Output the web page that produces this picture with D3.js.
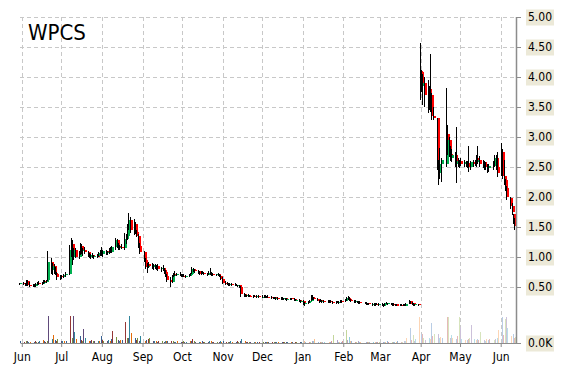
<!DOCTYPE html>
<html>
<head>
<meta charset="utf-8">
<script src="https://cdn.jsdelivr.net/npm/d3@7"></script>
<style>
  body { margin: 0; background: #fff; }
  svg { display: block; }
</style>
</head>
<body>
<div id="chart"></div>
<script>
// ---- data ----
const symbol = 'WPCS'
const firstDay = '2013-05-31'
const lastDay = '2014-06-12'
const holidays = ['2013-07-04', '2013-09-02', '2013-11-28', '2013-12-25', '2014-01-01',
  '2014-01-20', '2014-02-17', '2014-04-18', '2014-05-26']
const monthTicks = ['2013-06-01', '2013-07-01', '2013-08-01', '2013-09-01', '2013-10-01', '2013-11-01',
  '2013-12-01', '2014-01-01', '2014-02-01', '2014-03-01', '2014-04-01', '2014-05-01', '2014-06-01']
const priceTicks = [0.5, 1, 1.5, 2, 2.5, 3, 3.5, 4, 4.5, 5]
const volumeTicks = [0]
const shadeBreaks = ['2014-01-01', '2014-03-17']

// one line per month: May31 | Jun | Jul | Aug | Sep | Oct | Nov | Dec | Jan | Feb | Mar | Apr | May | Jun
const opens = [
  .55,
  .56,.55,.53,.60,.54,.52,.53,.51,.55,.57,.56,.57,.60,.58,.61,.92,.78,.85,.74,.72,
  .66,.68,.67,.70,.72,1.12,1.22,1.00,1.12,1.00,1.08,1.18,1.10,1.12,1.08,1.03,1.00,1.03,1.00,1.02,1.01,1.06,
  1.10,1.05,1.10,1.06,1.08,1.13,1.09,1.16,1.28,1.18,1.15,1.17,1.15,1.30,1.35,1.50,1.62,1.45,1.55,1.42,1.35,1.18,
  1.08,.95,.83,.88,.85,.83,.86,.82,.85,.80,.82,.78,.75,.68,.62,.58,.68,.72,.70,.72,
  .70,.68,.69,.67,.68,.70,.72,.80,.78,.76,.75,.72,.74,.73,.71,.72,.74,.72,.71,.70,.71,.69,.68,
  .64,.57,.56,.55,.54,.55,.53,.54,.52,.53,.50,.38,.36,.35,.36,.35,.34,.35,.34,.35,
  .33,.34,.35,.32,.34,.33,.31,.33,.31,.32,.30,.32,.30,.31,.29,.30,.31,.30,.28,.29,.26,
  .27,.22,.23,.25,.27,.34,.31,.30,.27,.28,.26,.27,.25,.26,.27,.25,.24,.25,.24,.25,.27,
  .26,.29,.32,.30,.28,.27,.25,.26,.24,.25,.23,.24,.22,.23,.21,.22,.20,.22,.21,
  .22,.19,.20,.23,.22,.23,.21,.22,.20,.21,.19,.20,.19,.20,.19,.22,.26,.22,.23,.20,.21,
  4.10,4.08,3.85,3.90,3.68,3.80,3.55,3.70,3.35,3.32,2.50,2.40,2.55,2.55,3.05,2.95,2.72,2.65,2.70,2.55,2.60,
  2.55,2.60,2.55,2.58,2.52,2.56,2.50,2.58,2.55,2.58,2.65,2.62,2.55,2.58,2.52,2.50,2.48,2.52,2.55,2.65,2.50,
  2.40,2.75,2.35,2.28,2.15,1.98,1.85,1.72,1.60
]
const highs = [
  .57,
  .58,.56,.62,.61,.58,.55,.55,.56,.58,.60,.58,.61,.61,.62,1.10,.98,.90,.88,.83,.75,
  .70,.70,.72,.75,1.20,1.32,1.28,1.15,1.15,1.10,1.23,1.22,1.15,1.16,1.10,1.07,1.05,1.06,1.04,1.05,1.08,1.12,
  1.17,1.12,1.12,1.10,1.15,1.16,1.18,1.32,1.30,1.23,1.20,1.22,1.40,1.38,1.55,1.73,1.66,1.63,1.58,1.45,1.38,1.23,
  1.10,.98,.90,.92,.90,.88,.89,.87,.88,.84,.86,.82,.78,.72,.66,.70,.74,.76,.74,.75,
  .72,.71,.72,.70,.71,.74,.83,.82,.80,.78,.77,.76,.77,.75,.74,.76,.82,.75,.73,.72,.73,.71,.70,
  .66,.60,.58,.57,.56,.57,.56,.55,.54,.54,.51,.40,.38,.37,.38,.37,.36,.37,.36,.36,
  .36,.37,.36,.35,.36,.35,.34,.34,.33,.33,.33,.33,.32,.32,.31,.32,.32,.31,.30,.30,.28,
  .28,.25,.26,.28,.36,.37,.34,.32,.29,.30,.29,.28,.28,.28,.29,.27,.26,.27,.26,.28,.29,
  .30,.34,.35,.33,.30,.29,.28,.27,.26,.27,.25,.25,.24,.24,.24,.23,.23,.24,.23,
  .23,.21,.24,.25,.24,.24,.23,.23,.22,.22,.21,.22,.21,.21,.23,.28,.27,.25,.24,.22,.22,
  4.57,4.12,4.05,4.00,3.95,3.85,4.38,3.73,3.50,3.32,2.62,2.82,2.65,3.82,3.20,3.00,2.85,2.80,2.75,3.17,2.65,
  2.62,2.65,2.62,2.60,2.60,2.85,2.60,2.62,2.62,2.70,2.85,2.68,2.62,2.60,2.58,2.55,2.55,2.60,2.70,2.70,2.75,
  2.90,2.80,2.62,2.30,2.18,2.00,1.90,1.72,1.65
]
const lows = [
  .53,
  .54,.52,.52,.52,.50,.50,.50,.50,.53,.54,.54,.55,.56,.56,.60,.72,.70,.72,.70,.62,
  .62,.64,.65,.66,.70,1.00,.87,.95,.98,.97,1.03,1.05,1.02,1.05,1.00,.98,.97,.99,.97,.99,1.00,1.02,
  1.02,1.00,1.03,1.03,1.05,1.06,1.07,1.12,1.15,1.12,1.12,1.13,1.12,1.22,1.28,1.45,1.40,1.37,1.38,1.33,1.15,1.05,
  .92,.80,.73,.82,.80,.78,.80,.78,.77,.75,.76,.72,.66,.58,.50,.56,.66,.68,.68,.68,
  .66,.66,.66,.65,.66,.68,.71,.75,.74,.72,.70,.70,.71,.70,.69,.70,.70,.69,.68,.68,.68,.66,.62,
  .55,.54,.53,.52,.52,.52,.51,.51,.50,.48,.33,.34,.33,.33,.34,.33,.32,.33,.32,.32,
  .31,.32,.31,.31,.32,.30,.30,.30,.29,.29,.29,.29,.28,.28,.27,.28,.29,.27,.26,.25,.24,
  .20,.18,.21,.23,.26,.29,.28,.26,.24,.25,.24,.24,.23,.24,.24,.22,.22,.23,.22,.23,.24,
  .25,.27,.29,.27,.25,.24,.23,.23,.22,.22,.21,.20,.20,.20,.19,.19,.19,.20,.19,
  .18,.17,.19,.21,.20,.20,.19,.19,.18,.18,.18,.18,.18,.18,.18,.21,.21,.20,.19,.19,.19,
  3.62,3.75,3.53,3.50,3.40,3.45,3.42,3.28,3.28,2.45,2.20,2.30,2.25,2.50,2.70,2.67,2.60,2.58,2.50,2.23,2.50,
  2.48,2.52,2.50,2.50,2.48,2.42,2.45,2.50,2.52,2.50,2.55,2.50,2.48,2.45,2.45,2.40,2.42,2.45,2.50,2.45,2.33,
  2.35,2.30,2.20,2.10,1.95,1.80,1.70,1.55,1.45
]
const closes = [
  .56,
  .55,.53,.60,.54,.52,.53,.51,.55,.57,.56,.57,.60,.58,.61,.92,.78,.85,.74,.72,.66,
  .68,.67,.70,.72,1.12,1.22,1.00,1.12,1.00,1.08,1.18,1.10,1.12,1.08,1.03,1.00,1.03,1.00,1.02,1.01,1.06,1.10,
  1.05,1.10,1.06,1.08,1.13,1.09,1.16,1.28,1.18,1.15,1.17,1.15,1.30,1.35,1.50,1.62,1.45,1.55,1.42,1.35,1.18,1.08,
  .95,.83,.88,.85,.83,.86,.82,.85,.80,.82,.78,.75,.68,.62,.58,.68,.72,.70,.72,.70,
  .68,.69,.67,.68,.70,.72,.80,.78,.76,.75,.72,.74,.73,.71,.72,.74,.72,.71,.70,.71,.69,.68,.64,
  .57,.56,.55,.54,.55,.53,.54,.52,.53,.50,.38,.36,.35,.36,.35,.34,.35,.34,.35,.33,
  .34,.35,.32,.34,.33,.31,.33,.31,.32,.30,.32,.30,.31,.29,.30,.31,.30,.28,.29,.26,.27,
  .22,.23,.25,.27,.34,.31,.30,.27,.28,.26,.27,.25,.26,.27,.25,.24,.25,.24,.25,.27,.26,
  .29,.32,.30,.28,.27,.25,.26,.24,.25,.23,.24,.22,.23,.21,.22,.20,.22,.21,.22,
  .19,.20,.23,.22,.23,.21,.22,.20,.21,.19,.20,.19,.20,.19,.22,.26,.22,.23,.20,.21,.20,
  3.95,3.85,3.90,3.70,3.80,3.55,3.70,3.35,3.32,2.50,2.40,2.55,2.62,3.05,2.95,2.72,2.65,2.70,2.55,2.60,2.55,
  2.60,2.55,2.58,2.52,2.56,2.50,2.58,2.55,2.58,2.65,2.62,2.55,2.58,2.52,2.50,2.48,2.52,2.55,2.65,2.50,2.40,
  2.75,2.35,2.28,2.15,2.00,1.85,1.75,1.60,1.52
]
// thousands of shares
const volumes = [
  60,
  50,70,60,45,55,40,60,50,45,70,100,60,50,80,985,150,296,120,90,160,
  70,60,80,60,985,200,985,418,150,270,120,90,529,196,80,60,100,70,60,80,90,270,
  120,80,60,100,70,150,455,240,110,90,111,120,788,200,196,985,381,196,120,175,90,250,
  80,100,148,196,70,60,80,50,70,60,50,70,60,80,90,60,50,45,60,50,
  50,60,45,55,60,70,159,60,50,45,55,60,50,45,50,60,70,50,45,55,40,60,50,
  60,50,45,55,60,50,45,60,55,60,159,70,50,45,55,40,50,45,40,35,
  45,50,40,55,45,50,40,45,55,40,45,50,40,45,55,40,35,30,45,50,40,
  60,50,45,55,70,60,159,50,45,55,40,45,50,45,60,307,111,50,45,55,60,
  492,120,233,80,60,50,45,60,55,45,40,50,45,55,50,40,45,50,55,
  45,50,40,60,55,50,45,40,55,60,45,50,60,70,196,566,120,307,90,150,973,
  344,344,200,122,180,150,751,250,344,344,200,233,180,973,973,200,307,196,150,250,973,
  603,150,120,100,150,180,677,130,100,150,120,418,100,90,130,110,150,120,150,200,492,
  973,300,899,973,566,250,350,200,233
]

// ---- style ----
const FONT = '"DejaVu Sans Condensed", "DejaVu Sans", sans-serif'
const upColor = '#00b050'
const downColor = '#ff0000'
const gridColor = '#c8c8c8'
const axisColor = '#8c8c8c'
const labelBg = '#ece9d8'
const volPalettes = [
  ['#376092', '#953735', '#77933c', '#604a7b', '#31859c', '#e46c0a'],
  ['#95b3d7', '#d99694', '#c3d69b', '#b3a2c7', '#93cddd', '#fac090'],
  ['#b9cde5', '#e6b9b8', '#d7e4bd', '#ccc1da', '#b7dee8', '#fcd5b5']
]

const width = 570
const height = 370
const plotTop = 17
const plotRight = 516
const volBase = 343
const volTop = 316

const parseDay = d3.timeParse('%Y-%m-%d')
const fmtDay = d3.timeFormat('%Y-%m-%d')

function tradingDays() {
  const off = new Set(holidays)
  return d3.timeDay
    .range(parseDay(firstDay), d3.timeDay.offset(parseDay(lastDay), 1))
    .filter(d => d.getDay() !== 0 && d.getDay() !== 6 && !off.has(fmtDay(d)))
}

const days = tradingDays()
const n = Math.min(days.length, opens.length, highs.length, lows.length, closes.length, volumes.length)
const breaks = shadeBreaks.map(parseDay)
const data = d3.range(n).map(i => ({
  date: days[i],
  open: opens[i],
  high: highs[i],
  low: lows[i],
  close: closes[i],
  volume: volumes[i],
  index: i,
  shade: d3.bisectRight(breaks, days[i])
}))

const monthDates = monthTicks.map(parseDay)

const x = d3.scaleTime()
  .domain([monthDates[0], monthDates[monthDates.length - 1]])
  .range([21.8, 500.7])

const y = d3.scaleLinear().domain([0, 5]).range([plotTop + 300, plotTop])
const yVol = d3.scaleLinear().domain([0, 1000]).range([volBase, volTop])

const plotLeft = x(parseDay(firstDay))

const svg = d3.select('#chart')
  .append('svg')
  .attr('width', width)
  .attr('height', height)
  .attr('viewBox', [0, 0, width, height])

// grid
const grid = svg.append('g')
  .attr('stroke', gridColor)
  .attr('stroke-dasharray', '4,3')
  .attr('shape-rendering', 'crispEdges')

grid.selectAll('line.h')
  .data(priceTicks)
  .join('line')
  .attr('class', 'h')
  .attr('x1', plotLeft)
  .attr('x2', plotRight)
  .attr('y1', d => Math.round(y(d)) + 0.5)
  .attr('y2', d => Math.round(y(d)) + 0.5)

grid.selectAll('line.v')
  .data(monthDates)
  .join('line')
  .attr('class', 'v')
  .attr('x1', d => Math.round(x(d)) + 0.5)
  .attr('x2', d => Math.round(x(d)) + 0.5)
  .attr('y1', plotTop)
  .attr('y2', volBase)

// volume bars
svg.append('g')
  .attr('shape-rendering', 'crispEdges')
  .selectAll('rect')
  .data(data)
  .join('rect')
  .attr('x', d => Math.round(x(d.date)))
  .attr('width', 1)
  .attr('y', d => yVol(d.volume))
  .attr('height', d => volBase - yVol(d.volume))
  .attr('fill', d => volPalettes[d.shade][d.index % 6])

// candles: black high-low wick with the coloured open-close body beside it
const candles = svg.append('g')
  .attr('shape-rendering', 'crispEdges')
  .selectAll('g')
  .data(data)
  .join('g')

candles.append('rect')
  .attr('x', d => Math.round(x(d.date)) - 1)
  .attr('width', 1)
  .attr('y', d => y(d.high))
  .attr('height', d => Math.max(1, y(d.low) - y(d.high)))
  .attr('fill', '#000')

candles.append('rect')
  .attr('x', d => Math.round(x(d.date)))
  .attr('width', 2)
  .attr('y', d => y(Math.max(d.open, d.close)))
  .attr('height', d => Math.max(1, Math.abs(y(d.open) - y(d.close))))
  .attr('fill', d => (d.close >= d.open ? upColor : downColor))

// axis frame
svg.append('line')
  .attr('x1', plotRight + 0.5).attr('x2', plotRight + 0.5)
  .attr('y1', plotTop).attr('y2', volBase + 1)
  .attr('stroke', axisColor)
  .attr('stroke-width', 1.5)

svg.append('line')
  .attr('x1', plotLeft).attr('x2', plotRight)
  .attr('y1', volBase + 0.5).attr('y2', volBase + 0.5)
  .attr('stroke', axisColor)

function styleRightAxis(g) {
  g.attr('font-family', FONT).attr('font-size', 12)
  g.select('.domain').remove()
  g.selectAll('.tick line').attr('stroke', axisColor)
  g.selectAll('.tick')
    .insert('rect', 'text')
    .attr('x', 10)
    .attr('y', -8)
    .attr('width', 28)
    .attr('height', 16)
    .attr('fill', labelBg)
  g.selectAll('.tick text').attr('fill', '#000')
}

svg.append('g')
  .attr('transform', `translate(${plotRight},0)`)
  .call(d3.axisRight(y).tickValues(priceTicks).tickFormat(d3.format('.2f')).tickSize(5).tickPadding(7))
  .call(styleRightAxis)

svg.append('g')
  .attr('transform', `translate(${plotRight},0)`)
  .call(d3.axisRight(yVol).tickValues(volumeTicks).tickFormat(d => d3.format('.1f')(d) + 'K').tickSize(5).tickPadding(7))
  .call(styleRightAxis)

const xAxis = svg.append('g')
  .attr('transform', `translate(0,${volBase})`)
  .call(d3.axisBottom(x).tickValues(monthDates).tickFormat(d3.timeFormat('%b')).tickSize(4).tickPadding(5))

xAxis.attr('font-family', FONT).attr('font-size', 12)
xAxis.select('.domain').remove()
xAxis.selectAll('.tick line').attr('stroke', axisColor)
xAxis.selectAll('.tick text').attr('fill', '#000')

// title
svg.append('text')
  .attr('x', 28)
  .attr('y', 40)
  .attr('font-family', FONT)
  .attr('font-size', 22)
  .attr('fill', '#000')
  .text(symbol)
</script>
</body>
</html>
